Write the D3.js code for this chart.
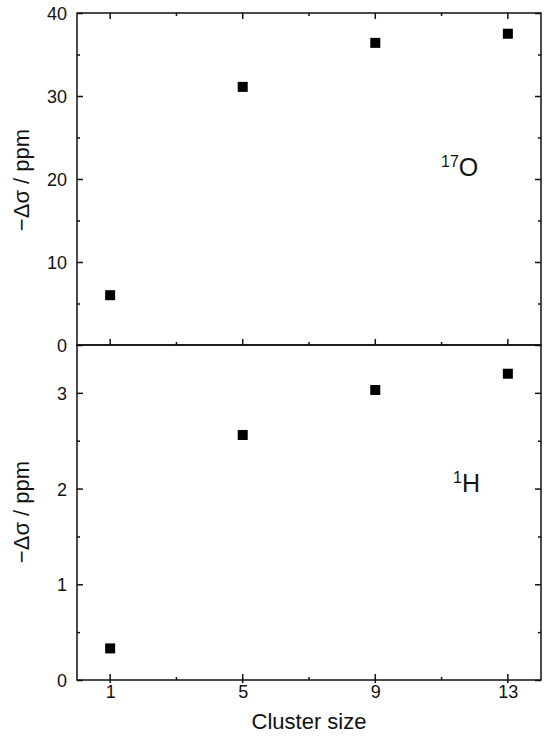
<!DOCTYPE html>
<html><head><meta charset="utf-8">
<script src="https://cdn.jsdelivr.net/npm/d3@7"></script>
<style>body{margin:0;background:#fff}svg{display:block}text{font-family:"Liberation Sans",Arial,sans-serif;fill:#111}</style>
</head><body><svg id="c" width="550" height="739"></svg>
<script>
const clusterSizes = [1, 5, 9, 13];
const oxygenShift = [6.0, 31.1, 36.4, 37.5];
const hydrogenShift = [0.33, 2.56, 3.03, 3.2];
const xTicks = [1, 5, 9, 13];
const xMinorTicks = [3, 7, 11];
const topTicks = [0, 10, 20, 30, 40];
const topMinor = [5, 15, 25, 35];
const botTicks = [0, 1, 2, 3];
const botMinor = [0.5, 1.5, 2.5];

const svg = d3.select("#c");
const L = 77, R = 541, T = 13, MID = 345, B = 680;
const x = d3.scaleLinear().domain([0, 14]).range([L, R]);
const yTop = d3.scaleLinear().domain([0, 40]).range([MID, T]);
const yBot = d3.scaleLinear().domain([0, 3.5]).range([B, MID]);
const stroke = "#111", sw = 1.5;

function panel(y, ticks, minor, data, labelY) {
  const g = svg.append("g");
  const left = g.append("g").attr("transform", `translate(${L},0)`)
    .call(d3.axisLeft(y).tickValues(ticks).tickSize(-6).tickPadding(10).tickFormat(d3.format("d")));
  left.select(".domain").remove();
  left.selectAll("text").style("font-size", "18px").attr("dy", "0.36em");
  const leftMin = g.append("g").attr("transform", `translate(${L},0)`)
    .call(d3.axisLeft(y).tickValues(minor).tickSize(-3).tickFormat(""));
  leftMin.select(".domain").remove();
  const right = g.append("g").attr("transform", `translate(${R},0)`)
    .call(d3.axisRight(y).tickValues(ticks).tickSize(-6).tickFormat(""));
  right.select(".domain").remove();
  const rightMin = g.append("g").attr("transform", `translate(${R},0)`)
    .call(d3.axisRight(y).tickValues(minor).tickSize(-3).tickFormat(""));
  rightMin.select(".domain").remove();
  g.selectAll(".tick line").attr("stroke", stroke).attr("stroke-width", sw);
  g.append("rect").attr("x", L).attr("y", y.range()[1]).attr("width", R - L)
    .attr("height", y.range()[0] - y.range()[1]).attr("fill", "none")
    .attr("stroke", stroke).attr("stroke-width", sw);
  g.selectAll("rect.pt").data(data).enter().append("rect").attr("class", "pt")
    .attr("x", (d, i) => x(clusterSizes[i]) - 5).attr("y", d => y(d) - 5)
    .attr("width", 10).attr("height", 10).attr("fill", "#000");
  g.append("text").attr("transform", `translate(29,${labelY}) rotate(-90)`)
    .attr("text-anchor", "middle").style("font-size", "22px").text("\u2212\u0394\u03c3 / ppm");
  return g;
}

panel(yTop, topTicks, topMinor, oxygenShift, 180);
panel(yBot, botTicks, botMinor, hydrogenShift, 512);

function xt(yPos, dir, vals, len) {
  svg.append("g").selectAll("line").data(vals).enter().append("line")
    .attr("x1", d => x(d)).attr("x2", d => x(d))
    .attr("y1", yPos).attr("y2", yPos + dir * len)
    .attr("stroke", stroke).attr("stroke-width", sw);
}
xt(T, 1, xTicks, 6); xt(T, 1, xMinorTicks, 3);
xt(MID, -1, xTicks, 6); xt(MID, -1, xMinorTicks, 3);
xt(B, -1, xTicks, 6); xt(B, -1, xMinorTicks, 3);
xt(B, 1, xTicks, 3);

const xAxis = svg.append("g").attr("transform", `translate(0,${B})`)
  .call(d3.axisBottom(x).tickValues(xTicks).tickSize(0).tickPadding(5).tickFormat(d3.format("d")));
xAxis.select(".domain").remove();
xAxis.selectAll("text").style("font-size", "18px");

svg.append("text").attr("x", x(7)).attr("y", 729).attr("text-anchor", "middle")
  .style("font-size", "22px").text("Cluster size");

const o = svg.append("text").attr("x", 441).attr("y", 176).style("font-size", "25px");
o.append("tspan").attr("dy", "-9").style("font-size", "16px").text("17");
o.append("tspan").attr("dy", "9").text("O");
const h = svg.append("text").attr("x", 453).attr("y", 492).style("font-size", "25px");
h.append("tspan").attr("dy", "-9").style("font-size", "16px").text("1");
h.append("tspan").attr("dy", "9").text("H");
</script></body></html>
